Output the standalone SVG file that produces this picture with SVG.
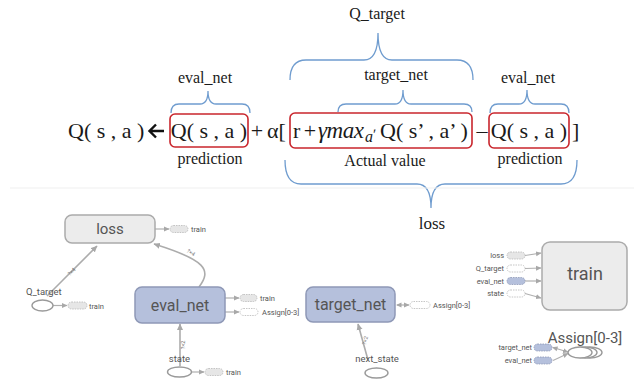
<svg xmlns="http://www.w3.org/2000/svg" width="644" height="387" viewBox="0 0 644 387">
  <style>
    .f { font-family: "Liberation Serif", "Times New Roman", serif; fill: #1a1a1a; }
    .eq { font-size: 22px; }
    .lbl { font-size: 16px; text-anchor: middle; }
    .hit { fill: none; stroke: #c9262d; stroke-width: 1.6; }
    .brace { fill: none; stroke: #6f9ccf; stroke-width: 1.3; }
    .g { font-family: Roboto, "Liberation Sans", sans-serif; fill: #555; }
    .node-gray { fill: #ececec; stroke: #ababab; stroke-width: 1.5; }
    .node-blue { fill: #b5c0dc; stroke: #8e98b6; stroke-width: 1.5; }
    .op { fill: #fff; stroke: #9a9a9a; stroke-width: 1.4; }
    .edge { fill: none; stroke: #acacac; stroke-width: 1.6; }
    .sedge { fill: none; stroke: #b0b0b0; stroke-width: 1.2; }
    .pg { fill: #e6e6e6; stroke: #b8b8b8; stroke-width: 0.8; stroke-dasharray: 1.5 1; }
    .pb { fill: #b5c0dc; stroke: #8e98b6; stroke-width: 0.8; stroke-dasharray: 1.5 1; }
    .pw { fill: #fff; stroke: #b8b8b8; stroke-width: 0.8; stroke-dasharray: 1.5 1; }
    .tiny { font-size: 7.5px; }
    .small { font-size: 9.5px; }
    .shape { font-size: 5.5px; fill: #777; }
  </style>
  <defs>
    <marker id="ah" markerWidth="7" markerHeight="7" refX="6" refY="3.5" orient="auto" markerUnits="userSpaceOnUse">
      <path d="M0,0.5 L6.5,3.5 L0,6.5 z" fill="#a8a8a8"/>
    </marker>
    <marker id="ahs" markerWidth="6" markerHeight="6" refX="5" refY="3" orient="auto" markerUnits="userSpaceOnUse">
      <path d="M0,0.5 L5.5,3 L0,5.5 z" fill="#a8a8a8"/>
    </marker>
    <marker id="ahb" markerWidth="6" markerHeight="6" refX="1" refY="3" orient="auto" markerUnits="userSpaceOnUse">
      <path d="M5.5,0.5 L0,3 L5.5,5.5 z" fill="#a8a8a8"/>
    </marker>
  </defs>

  <rect width="644" height="387" fill="#fff"/>

  <!-- update rule -->
  <g id="formula">
    <text class="f eq" x="68" y="138">Q( s , a )</text>
    <path d="M164,131 L150,131 M156,124.5 L149.5,131 L156,137.5" fill="none" stroke="#111" stroke-width="2.4"/>
    <rect class="hit" x="170" y="114" width="78" height="33" rx="5"/>
    <text class="f eq" x="209" y="138" text-anchor="middle">Q( s , a )</text>
    <text class="f eq" x="257" y="138" text-anchor="middle">+</text>
    <text class="f eq" x="267" y="138">α[</text>
    <rect class="hit" x="290" y="113" width="182" height="35" rx="5"/>
    <text class="f eq" x="293" y="138">r</text>
    <text class="f eq" x="310" y="138" text-anchor="middle">+</text>
    <text class="f" x="318" y="138" font-size="23" font-style="italic" textLength="46" lengthAdjust="spacing">γmax</text>
    <text class="f" x="365" y="142" font-size="16" font-style="italic">a</text>
    <text class="f" x="373" y="139" font-size="15">ʹ</text>
    <text class="f eq" x="380" y="138">Q( s’ , a’ )</text>
    <text class="f eq" x="482" y="138" text-anchor="middle" fill="#555">–</text>
    <rect class="hit" x="489" y="113" width="80" height="35" rx="5"/>
    <text class="f eq" x="529" y="138" text-anchor="middle">Q( s , a )</text>
    <text class="f eq" x="572" y="138">]</text>
  </g>

  <!-- braces and their captions -->
  <g id="annotations">
    <path class="brace" d="M171,113 Q171,104 179,104 L200,104 Q208,104 208,91 Q208,104 216,104 L242,104 Q250,104 250,113"/>
    <text class="f lbl" x="205" y="83">eval_net</text>
    <text class="f lbl" x="210" y="164">prediction</text>

    <path class="brace" d="M338,112 Q338,104 346,104 L395,104 Q403,104 403,90 Q403,104 411,104 L464,104 Q472,104 472,112"/>
    <text class="f lbl" x="396" y="80">target_net</text>

    <path class="brace" d="M290,80 Q290,60 306,60 L364,60 Q378,60 378,33 Q378,60 392,60 L457,60 Q473,60 473,80"/>
    <text class="f lbl" x="377" y="19">Q_target</text>

    <path class="brace" d="M490,113 Q490,104 498,104 L519,104 Q527,104 527,90 Q527,104 535,104 L561,104 Q569,104 569,113"/>
    <text class="f lbl" x="528" y="83">eval_net</text>
    <text class="f lbl" x="530" y="164">prediction</text>

    <text class="f lbl" x="385" y="166">Actual value</text>

    <path class="brace" d="M285,160 Q285,184 301,184 L417,184 Q431,184 431,208 Q431,184 445,184 L561,184 Q577,184 577,160"/>
    <text class="f" x="432" y="229" font-size="17" text-anchor="middle">loss</text>
  </g>

  <line x1="10" y1="188" x2="634" y2="188" stroke="#efefef" stroke-width="1"/>

  <!-- graph connectors -->
  <g id="connectors">
    <line class="edge" x1="47" y1="296" x2="97" y2="246" marker-end="url(#ah)"/>
    <text class="g shape" transform="translate(73,273) rotate(-45)" text-anchor="middle">?×4</text>
    <path class="edge" d="M199,287 C212,270 206,260 154,244" marker-end="url(#ah)"/>
    <text class="g shape" transform="translate(190,254) rotate(32)" text-anchor="middle">?×4</text>
    <line class="edge" x1="180" y1="366" x2="180" y2="324" marker-end="url(#ah)"/>
    <text class="g shape" transform="translate(185,345) rotate(-90)" text-anchor="middle">?×2</text>
    <line class="edge" x1="368" y1="360" x2="358" y2="324" marker-end="url(#ah)"/>
    <text class="g shape" transform="translate(367,341) rotate(-74)" text-anchor="middle">?×2</text>

    <line class="sedge" x1="155" y1="229" x2="169" y2="229" marker-end="url(#ahs)"/>
    <line class="sedge" x1="53" y1="305.5" x2="67" y2="305.5" marker-end="url(#ahs)"/>
    <line class="sedge" x1="225" y1="298" x2="239" y2="298" marker-end="url(#ahs)"/>
    <line class="sedge" x1="225" y1="312" x2="239" y2="312" marker-end="url(#ahs)"/>
    <line class="sedge" x1="192" y1="372" x2="204" y2="372" marker-end="url(#ahs)"/>
    <line class="sedge" x1="397" y1="305" x2="409" y2="305" marker-start="url(#ahb)" marker-end="url(#ahs)"/>

    <line class="sedge" x1="525" y1="255.5" x2="541" y2="253" marker-end="url(#ahs)"/>
    <line class="sedge" x1="525" y1="268.5" x2="541" y2="268" marker-end="url(#ahs)"/>
    <line class="sedge" x1="525" y1="281" x2="541" y2="281" marker-end="url(#ahs)"/>
    <line class="sedge" x1="525" y1="293.5" x2="541" y2="298" marker-end="url(#ahs)"/>

    <line class="sedge" x1="553" y1="347.5" x2="568" y2="352" marker-start="url(#ahb)" marker-end="url(#ahs)"/>
    <line class="sedge" x1="553" y1="360.5" x2="568" y2="353.5" marker-end="url(#ahs)"/>
  </g>

  <!-- graph nodes -->
  <g id="loss">
    <rect class="node-gray" x="65" y="215" width="90" height="28" rx="7"/>
    <text class="g" x="110" y="234" font-size="15" text-anchor="middle" fill="#444">loss</text>
    <rect class="pg" x="170" y="225.5" width="18" height="7" rx="3.5"/>
    <text class="g tiny" x="191" y="232">train</text>
  </g>

  <g id="q_target">
    <ellipse class="op" cx="42.5" cy="305.5" rx="10.5" ry="5.5"/>
    <text class="g small" x="26" y="295" fill="#444">Q_target</text>
    <rect class="pg" x="68" y="302" width="19" height="7" rx="3.5"/>
    <text class="g tiny" x="89" y="308.5">train</text>
  </g>

  <g id="eval_net">
    <rect class="node-blue" x="135" y="287" width="90" height="36" rx="7"/>
    <text class="g" x="180" y="310.5" font-size="16" text-anchor="middle" fill="#444">eval_net</text>
    <rect class="pg" x="240" y="294.5" width="17" height="7" rx="3.5"/>
    <text class="g tiny" x="260" y="301">train</text>
    <rect class="pw" x="240" y="308.5" width="18" height="7" rx="3.5"/>
    <text class="g tiny" x="262" y="315">Assign[0-3]</text>
  </g>

  <g id="state">
    <ellipse class="op" cx="179.5" cy="372" rx="12" ry="5"/>
    <text class="g small" x="179.5" y="362" text-anchor="middle" fill="#444">state</text>
    <rect class="pg" x="205" y="368.5" width="18" height="7" rx="3.5"/>
    <text class="g tiny" x="226" y="375">train</text>
  </g>

  <g id="target_net">
    <rect class="node-blue" x="306" y="287" width="89" height="35" rx="7"/>
    <text class="g" x="350.5" y="310" font-size="16" text-anchor="middle" fill="#444">target_net</text>
    <rect class="pw" x="410" y="301.5" width="20" height="7" rx="3.5"/>
    <text class="g tiny" x="433" y="308">Assign[0-3]</text>
  </g>

  <g id="next_state">
    <ellipse class="op" cx="376.5" cy="373" rx="11.5" ry="5"/>
    <text class="g small" x="377" y="362" text-anchor="middle" fill="#444">next_state</text>
  </g>

  <g id="train">
    <rect class="node-gray" x="542" y="242" width="85" height="68" rx="8"/>
    <text class="g" x="585" y="280" font-size="18" text-anchor="middle" fill="#444">train</text>
    <text class="g tiny" x="504" y="258" text-anchor="end">loss</text>
    <rect class="pg" x="507" y="252" width="18" height="7" rx="3.5"/>
    <text class="g tiny" x="504" y="271" text-anchor="end">Q_target</text>
    <rect class="pw" x="507" y="265" width="18" height="7" rx="3.5"/>
    <text class="g tiny" x="504" y="284" text-anchor="end">eval_net</text>
    <rect class="pb" x="507" y="277.5" width="18" height="7" rx="3.5"/>
    <text class="g tiny" x="504" y="296" text-anchor="end">state</text>
    <rect class="pw" x="507" y="290" width="18" height="7" rx="3.5"/>
  </g>

  <g id="assign">
    <ellipse class="op" cx="590" cy="352.5" rx="12" ry="5.5"/>
    <ellipse class="op" cx="585" cy="352.5" rx="12" ry="5.5"/>
    <ellipse class="op" cx="580" cy="352.5" rx="12" ry="5.5"/>
    <text class="g" x="585" y="343" font-size="15" text-anchor="middle">Assign[0-3]</text>
    <text class="g tiny" x="532" y="350" text-anchor="end">target_net</text>
    <rect class="pb" x="534" y="344" width="18" height="7" rx="3.5"/>
    <text class="g tiny" x="532" y="363" text-anchor="end">eval_net</text>
    <rect class="pb" x="534" y="357" width="18" height="7" rx="3.5"/>
  </g>
</svg>
